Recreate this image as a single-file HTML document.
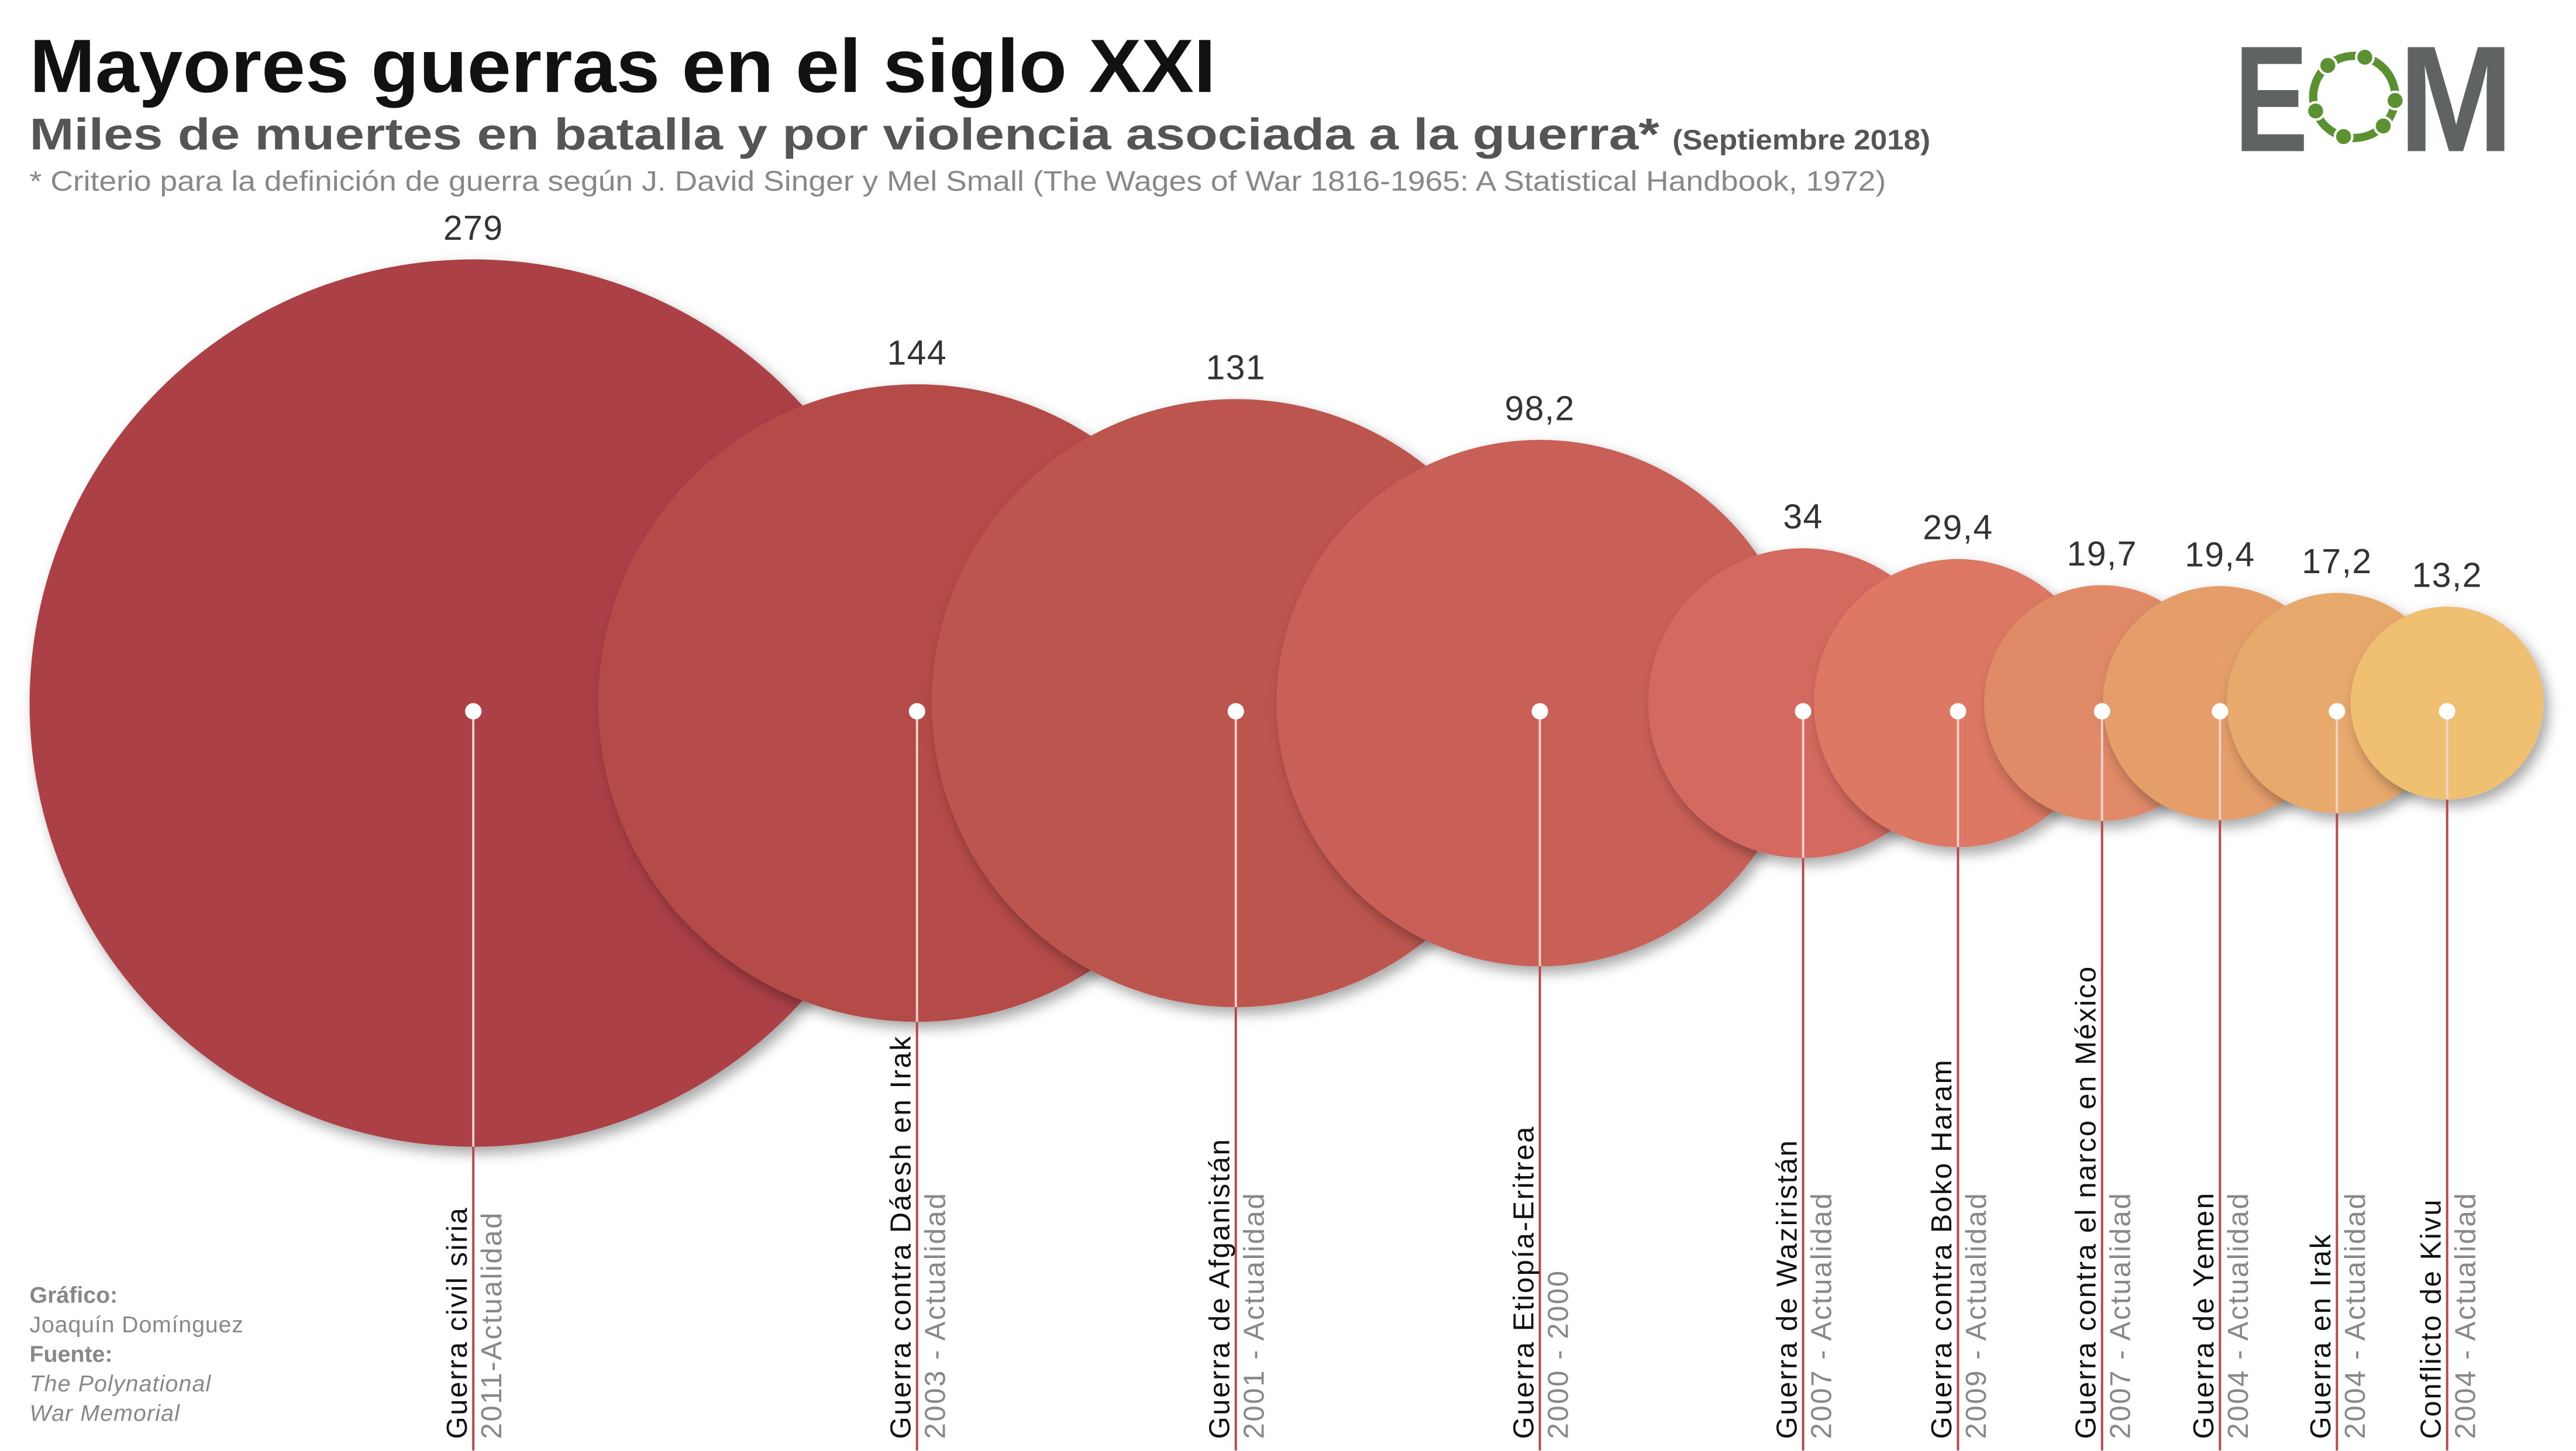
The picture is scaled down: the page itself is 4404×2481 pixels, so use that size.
<!DOCTYPE html>
<html><head><meta charset="utf-8">
<style>
html,body{margin:0;padding:0;background:#fff;}
svg{display:block;}
text{font-family:"Liberation Sans",sans-serif;}
</style></head>
<body>
<svg id="chart" width="4404" height="2481" viewBox="0 0 1568 883.3" preserveAspectRatio="none" xmlns="http://www.w3.org/2000/svg">
<defs>
<filter id="sh" x="-20%" y="-20%" width="140%" height="140%">
<feDropShadow dx="3" dy="4" stdDeviation="4" flood-color="#000" flood-opacity="0.35"/>
</filter>
</defs>
<text x="18" y="56" font-size="46" font-weight="bold" fill="#111" textLength="722" lengthAdjust="spacingAndGlyphs">Mayores guerras en el siglo XXI</text>
<text x="18" y="91" font-size="27" font-weight="bold" fill="#555" textLength="992" lengthAdjust="spacingAndGlyphs">Miles de muertes en batalla y por violencia asociada a la guerra*</text>
<text x="1018" y="91" font-size="17" font-weight="bold" fill="#555" textLength="157" lengthAdjust="spacingAndGlyphs">(Septiembre 2018)</text>
<text x="18" y="116" font-size="17" fill="#888" textLength="1130" lengthAdjust="spacingAndGlyphs">* Criterio para la definición de guerra según J. David Singer y Mel Small (The Wages of War 1816-1965: A Statistical Handbook, 1972)</text>

<g>
<text x="1360" y="92" font-size="92" font-weight="bold" fill="#5f6364" textLength="45" lengthAdjust="spacingAndGlyphs">E</text>
<circle cx="1433" cy="59" r="25" fill="none" stroke="#5a9232" stroke-width="5"/>
<g id="ring" fill="#5a9232" stroke="#fff" stroke-width="1.5"></g>
<text x="1460" y="92" font-size="92" font-weight="bold" fill="#5f6364" textLength="70" lengthAdjust="spacingAndGlyphs">M</text>
</g>

<g id="circles"></g>
<g id="lines"></g>
<g id="labels"></g>

<g font-size="14" fill="#888">
<text x="18" y="793" font-weight="bold">Gráfico:</text>
<text x="18" y="811" letter-spacing="0.3">Joaquín Domínguez</text>
<text x="18" y="829" font-weight="bold">Fuente:</text>
<text x="18" y="847" font-style="italic" letter-spacing="0.4">The Polynational</text>
<text x="18" y="865" font-style="italic" letter-spacing="0.4">War Memorial</text>
</g>
</svg>
<script>
const names = ["Guerra civil siria","Guerra contra Dáesh en Irak","Guerra de Afganistán","Guerra Etiopía-Eritrea","Guerra de Waziristán","Guerra contra Boko Haram","Guerra contra el narco en México","Guerra de Yemen","Guerra en Irak","Conflicto de Kivu"];
const periods = ["2011-Actualidad","2003 - Actualidad","2001 - Actualidad","2000 - 2000","2007 - Actualidad","2009 - Actualidad","2007 - Actualidad","2004 - Actualidad","2004 - Actualidad","2004 - Actualidad"];
const values = [279,144,131,98.2,34,29.4,19.7,19.4,17.2,13.2];
const valueLabels = ["279","144","131","98,2","34","29,4","19,7","19,4","17,2","13,2"];
const colors = ["#ab4146","#b44b4a","#bd5550","#c96158","#d46b5e","#dc7863","#e08a67","#e59d6a","#e8a96c","#efbf72"];

const NS="http://www.w3.org/2000/svg";
const CY=428, K=16.17, X0=18;
function rScale(v){return K*Math.sqrt(v);}
function mk(tag,attrs,parent){const e=document.createElementNS(NS,tag);for(const k in attrs)e.setAttribute(k,attrs[k]);parent.appendChild(e);return e;}

const gc=document.getElementById('circles'),gl=document.getElementById('lines'),gt=document.getElementById('labels');
let cx=X0+rScale(values[0]);
values.forEach((v,i)=>{
  const r=rScale(v);
  if(i>0) cx+=rScale(values[i-1]);
  const c=mk('circle',{cx:cx,cy:CY,r:r,fill:colors[i],filter:'url(#sh)'},gc);
  
  
  const l1=mk('line',{x1:cx,y1:CY+5,x2:cx,y2:CY+r,stroke:'#f2d0cc','stroke-width':1.4},gl);
  
  
  const l2=mk('line',{x1:cx,y1:CY+r,x2:cx,y2:883,stroke:'#b8474c','stroke-width':1.4},gl);
  
  
  const d=mk('circle',{cx:cx,cy:CY+5,r:5,fill:'#fff'},gl);
  
  
  const vt=mk('text',{x:cx,y:CY-r-12,'font-size':21,fill:'#333','text-anchor':'middle','letter-spacing':0.5},gt);
  vt.textContent=valueLabels[i];
  
  
  const nt=mk('text',{transform:`translate(${cx-4},876) rotate(-90)`,'font-size':17.5,fill:'#111','letter-spacing':0.9},gt);
  nt.textContent=names[i];
  
  
  const pt=mk('text',{transform:`translate(${cx+17},876) rotate(-90)`,'font-size':17.5,fill:'#888','letter-spacing':0.9},gt);
  pt.textContent=periods[i];
  
  
});
const ring=document.getElementById('ring');
[-75,-130,160,5,45,105].forEach(a=>{
  const t=a*Math.PI/180;
  const dot=mk('circle',{cx:1433+25*Math.cos(t),cy:59+25*Math.sin(t),r:5.3},ring);
  
  
});
</script>
</body></html>
